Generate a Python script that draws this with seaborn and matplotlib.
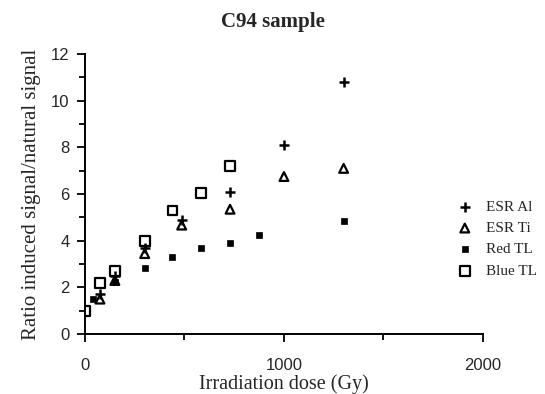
import matplotlib
matplotlib.use('Agg')
import matplotlib.pyplot as plt
import seaborn as sns
from matplotlib.ticker import MultipleLocator

# read values off the figure
al_dose = [75, 150, 300, 486, 729, 1000, 1300]
al_ratio = [1.7, 2.5, 3.7, 4.9, 6.1, 8.1, 10.8]

ti_dose = [75, 150, 300, 486, 729, 1000, 1300]
ti_ratio = [1.5, 2.3, 3.45, 4.67, 5.35, 6.75, 7.1]

red_dose = [40, 150, 300, 436, 583, 729, 873, 1300]
red_ratio = [1.5, 2.23, 2.85, 3.3, 3.7, 3.92, 4.24, 4.84]

blue_dose = [0, 75, 150, 300, 439, 583, 729]
blue_ratio = [1.0, 2.2, 2.7, 4.0, 5.3, 6.05, 7.2]

sns.set_style('ticks')
plt.rcParams['font.family'] = ['Liberation Serif', 'DejaVu Serif']

fig = plt.figure(figsize=(5.45, 3.94), dpi=100)
ax = fig.add_axes([0.156, 0.152, 0.73, 0.711])

k = 'black'
sns.scatterplot(x=al_dose, y=al_ratio, ax=ax, marker='+', s=60,
                color=k, linewidth=1.8, label='ESR Al')
sns.scatterplot(x=ti_dose, y=ti_ratio, ax=ax, marker='^', s=40,
                facecolor='none', edgecolor=k, linewidth=1.6, label='ESR Ti')
sns.scatterplot(x=red_dose, y=red_ratio, ax=ax, marker='s', s=15,
                color=k, edgecolor=k, linewidth=0.5, label='Red TL')
sns.scatterplot(x=blue_dose, y=blue_ratio, ax=ax, marker='s', s=48,
                facecolor='none', edgecolor=k, linewidth=1.6, label='Blue TL')

ax.set_xlim(0, 2000)
ax.set_ylim(0, 12)
ax.xaxis.set_major_locator(MultipleLocator(1000))
ax.xaxis.set_minor_locator(MultipleLocator(500))
ax.yaxis.set_major_locator(MultipleLocator(2))
ax.yaxis.set_minor_locator(MultipleLocator(1))
ax.tick_params(which='major', length=6, width=1.3, color=k, labelsize=12)
ax.tick_params(which='minor', length=4, width=1.3, color=k)
ax.tick_params(axis='x', which='major', pad=11)
ax.tick_params(axis='y', which='major', pad=5)
for lab in ax.get_xticklabels() + ax.get_yticklabels():
    lab.set_family('Liberation Sans')
for side in ['left', 'bottom']:
    ax.spines[side].set_linewidth(1.4)
    ax.spines[side].set_color(k)
sns.despine(ax=ax)

ax.set_xlabel('Irradiation dose (Gy)', fontsize=14.5, labelpad=1)
ax.set_ylabel('Ratio induced signal/natural signal', fontsize=15, labelpad=7)
fig.suptitle('C94 sample', fontsize=15, fontweight='bold', x=0.5, y=0.97)

leg = ax.legend(loc='center left', bbox_to_anchor=(0.92, 0.34), frameon=False,
                fontsize=11, handletextpad=0.9, labelspacing=0.5,
                handlelength=1.0, borderaxespad=0)

plt.savefig('out.png', dpi=100)
